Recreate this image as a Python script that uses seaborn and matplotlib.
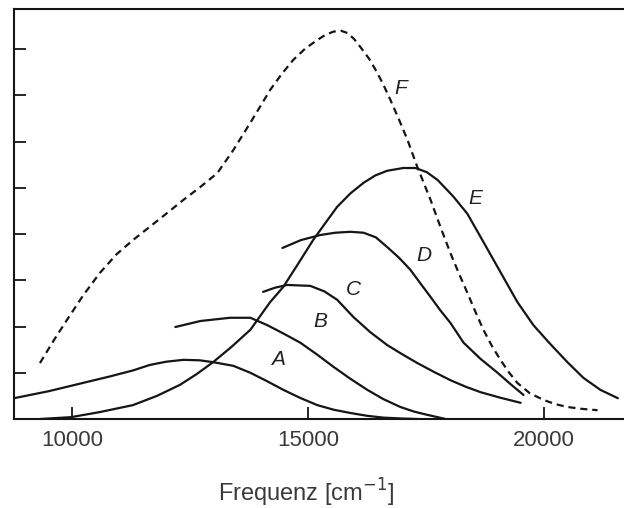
import matplotlib
matplotlib.use("Agg")
import matplotlib.pyplot as plt
import seaborn as sns
import numpy as np

sns.set_theme(style="white")
plt.rcParams['font.family'] = ['Liberation Sans', 'DejaVu Sans']

# --- data (frequency in cm^-1, intensity in arbitrary units) ---
a_x = [8770, 9500, 10230, 10800, 11290, 11650, 12000, 12360, 12700, 12990, 13420, 13780,
       14130, 14480, 14850, 15200, 15550, 15900, 16250, 16600, 17000, 17320]
a_y = [0.45, 0.60, 0.78, 0.92, 1.05, 1.17, 1.24, 1.28, 1.27, 1.23, 1.15, 1.00,
       0.82, 0.63, 0.45, 0.30, 0.20, 0.13, 0.07, 0.03, 0.01, 0.00]

b_x = [12190, 12720, 13350, 13780, 14140, 14480, 14840, 15200, 15540, 15900, 16260,
       16600, 16960, 17250, 17530, 17920]
b_y = [1.99, 2.12, 2.19, 2.19, 2.03, 1.85, 1.65, 1.39, 1.13, 0.87, 0.63,
       0.43, 0.26, 0.16, 0.09, 0.00]

c_x = [14050, 14300, 14560, 15050, 15350, 15620, 15960, 16320, 16680, 17000, 17320,
       17670, 18020, 18340, 18660, 19080, 19510]
c_y = [2.75, 2.84, 2.90, 2.88, 2.76, 2.58, 2.21, 1.88, 1.60, 1.40, 1.21,
       1.02, 0.84, 0.70, 0.58, 0.46, 0.35]

d_x = [14460, 14850, 15260, 15580, 15900, 16180, 16440, 16680, 16930, 17170, 17380,
       17600, 17800, 18020, 18300, 18660, 19020, 19300, 19570]
d_y = [3.70, 3.87, 3.98, 4.03, 4.05, 4.03, 3.93, 3.72, 3.49, 3.23, 2.94,
       2.64, 2.36, 2.08, 1.65, 1.30, 1.00, 0.75, 0.52]

e_x = [9320, 9980, 10590, 11290, 11800, 12290, 12640, 12990, 13380, 13780, 14200, 14480,
       14800, 15110, 15370, 15620, 15900, 16180, 16430, 16680, 17020, 17280, 17520,
       17750, 18085, 18380, 18720, 19080, 19440, 19780, 20140, 20500, 20840, 21200, 21570]
e_y = [0.00, 0.04, 0.15, 0.30, 0.50, 0.74, 0.97, 1.23, 1.56, 1.93, 2.53, 2.86,
       3.37, 3.87, 4.24, 4.59, 4.88, 5.11, 5.27, 5.37, 5.43, 5.43, 5.34,
       5.17, 4.81, 4.44, 3.83, 3.18, 2.53, 2.03, 1.62, 1.23, 0.89, 0.63, 0.45]

f_x = [9320, 9600, 9890, 10240, 10590, 10940, 11290, 11650, 12020, 12360, 12720, 13080,
       13420, 13780, 14000, 14200, 14450, 14690, 14950, 15200, 15370, 15540, 15700, 15840,
       15980, 16110, 16300, 16470, 16610, 16750, 16930, 17110, 17320, 17600, 17800,
       18020, 18200, 18380, 18550, 18720, 18900, 19080, 19260, 19440, 19700, 20000,
       20250, 20500, 20800, 21140]
f_y = [1.21, 1.68, 2.14, 2.68, 3.16, 3.56, 3.87, 4.16, 4.46, 4.74, 5.02, 5.32,
       5.82, 6.41, 6.78, 7.12, 7.47, 7.77, 8.02, 8.20, 8.31, 8.38, 8.40, 8.35,
       8.22, 8.05, 7.79, 7.49, 7.21, 6.90, 6.48, 6.04, 5.45, 4.74, 4.18,
       3.59, 3.15, 2.73, 2.32, 1.93, 1.58, 1.28, 1.01, 0.78, 0.56, 0.41,
       0.32, 0.26, 0.22, 0.19]

labels = ["A", "B", "C", "D", "E", "F"]
label_x = [14370, 15260, 15960, 17450, 18550, 16960]
label_y = [1.28, 2.10, 2.81, 3.54, 4.78, 7.16]

x_ticks = [10000, 15000, 20000]
x_tick_labels = ["10000", "15000", "20000"]
y_ticks = [1, 2, 3, 4, 5, 6, 7, 8]
x_label = "Frequenz [cm$^{-1}$]"

# --- figure ---
fig = plt.figure(figsize=(6.24, 5.08), dpi=100)
ax = fig.add_axes([14 / 624, 1 - 419 / 508, 610 / 624, 410 / 508])

ink = "#151515"
lw = 1.6
for xs, ys in [(a_x, a_y), (b_x, b_y), (c_x, c_y), (d_x, d_y), (e_x, e_y)]:
    sns.lineplot(x=xs, y=ys, ax=ax, color=ink, linewidth=lw, sort=False, estimator=None)
sns.lineplot(x=f_x, y=f_y, ax=ax, color=ink, linewidth=lw, sort=False, estimator=None,
             linestyle=(0, (3.2, 2.2)))

for t, lx, ly in zip(labels, label_x, label_y):
    ax.text(lx, ly, t, fontsize=15, style="italic", color="#222222",
            ha="center", va="center")

ax.set_xlim(8770, 21700)
ax.set_ylim(0, 8.87)
ax.set_xticks(x_ticks)
ax.set_xticklabels(x_tick_labels, fontsize=16, color="#3a3a3a")
ax.set_yticks(y_ticks)
ax.set_yticklabels([])
ax.tick_params(axis="both", direction="in", length=8.5, width=1.3, color=ink,
               left=True, bottom=True, right=False, top=False)
ax.tick_params(axis="x", pad=8)

ax.set_xlabel(x_label, fontsize=17, color="#3a3a3a")
ax.xaxis.set_label_coords((306 - 14) / 610, -58 / 410)

for side in ["left", "top", "bottom"]:
    ax.spines[side].set_visible(True)
    ax.spines[side].set_color(ink)
    ax.spines[side].set_linewidth(1.5)
ax.spines["right"].set_visible(False)

fig.savefig("out.png", dpi=100, facecolor="white")
